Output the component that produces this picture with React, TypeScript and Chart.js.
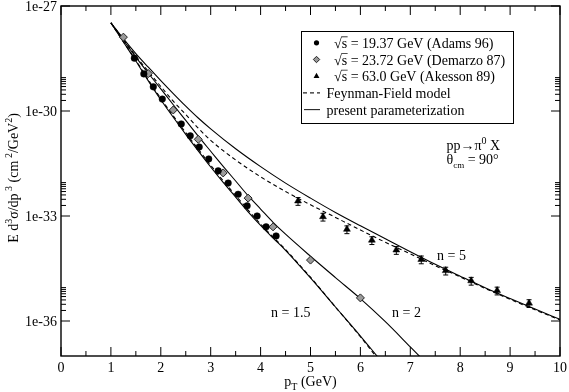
import React, { useEffect, useRef } from 'react';
import { Chart, registerables } from 'chart.js';

Chart.register(...registerables);

// ---------------- data ----------------
const adamsPt = [1.47, 1.66, 1.85, 2.03, 2.41, 2.59, 2.77, 2.96, 3.15, 3.35, 3.55, 3.73, 3.93, 4.11, 4.31];
const adamsXsec = [3.24e-29, 1.15e-29, 4.9e-30, 2.19e-30, 4.27e-31, 1.95e-31, 9.33e-32, 4.27e-32, 1.95e-32, 8.71e-33, 4.17e-33, 1.95e-33, 1.0e-33, 4.9e-34, 2.69e-34];

const demarzoPt = [1.25, 1.75, 2.25, 2.75, 3.25, 3.75, 4.25, 5.0, 6.0];
const demarzoXsec = [1.29e-28, 1.17e-29, 1.07e-30, 1.55e-31, 1.7e-32, 3.24e-33, 4.9e-34, 5.5e-35, 4.57e-36];

const akessonPt = [4.75, 5.25, 5.73, 6.23, 6.72, 7.22, 7.71, 8.22, 8.74, 9.38];
const akessonXsec = [2.69e-33, 9.55e-34, 4.17e-34, 2.04e-34, 1.07e-34, 5.75e-35, 2.75e-35, 1.41e-35, 7.41e-36, 3.24e-36];
const akessonRelErr = [0.25, 0.25, 0.25, 0.25, 0.25, 0.25, 0.25, 0.25, 0.25, 0.25];

const curve63Pt = [1, 1.25, 1.5, 1.75, 2, 2.25, 2.5, 2.75, 3, 3.5, 4, 4.5, 5, 5.5, 6, 6.5, 7, 7.5, 8, 8.5, 9, 9.5, 10];
const present63 = [3.31e-28, 1.17e-28, 4.37e-29, 1.78e-29, 7.41e-30, 3.16e-30, 1.38e-30, 6.31e-31, 3.09e-31, 8.32e-32, 2.57e-32, 8.71e-33, 3.24e-33, 1.26e-33, 5.25e-34, 2.24e-34, 9.55e-35, 4.17e-35, 1.91e-35, 8.91e-36, 4.37e-36, 2.19e-36, 1.12e-36];
const feynman63 = [3.31e-28, 1.1e-28, 3.72e-29, 1.35e-29, 5.01e-30, 1.91e-30, 7.94e-31, 3.24e-31, 1.45e-31, 3.98e-32, 1.32e-32, 5.01e-33, 2.09e-33, 9.12e-34, 3.98e-34, 1.78e-34, 8.32e-35, 3.8e-35, 1.82e-35, 8.51e-36, 4.17e-36, 2.09e-36, 1.07e-36];

const curve23Pt = [1, 1.25, 1.5, 1.75, 2, 2.25, 2.5, 2.75, 3, 3.25, 3.5, 3.75, 4, 4.25, 4.5, 5, 5.5, 6, 6.5, 7, 7.2];
const present23 = [3.31e-28, 1.05e-28, 3.47e-29, 1.2e-29, 4.27e-30, 1.51e-30, 5.37e-31, 1.91e-31, 7.08e-32, 2.63e-32, 1.0e-32, 3.8e-33, 1.58e-33, 6.61e-34, 3.02e-34, 7.08e-35, 1.74e-35, 4.37e-36, 9.55e-37, 1.82e-37, 9.33e-38];

const curve19Pt = [1, 1.25, 1.5, 1.75, 2, 2.25, 2.5, 2.75, 3, 3.25, 3.5, 3.75, 4, 4.25, 4.5, 5, 5.5, 6, 6.35];
const present19 = [3.31e-28, 9.33e-29, 2.69e-29, 7.24e-30, 2.09e-30, 6.61e-31, 2.14e-31, 7.24e-32, 2.51e-32, 9.12e-33, 3.47e-33, 1.32e-33, 5.37e-34, 2.34e-34, 1.05e-34, 1.7e-35, 2.51e-36, 3.72e-37, 9.33e-38];
const feynman19 = [3.31e-28, 9.55e-29, 2.82e-29, 7.76e-30, 2.29e-30, 7.24e-31, 2.4e-31, 8.13e-32, 2.82e-32, 1.02e-32, 3.89e-33, 1.48e-33, 5.89e-34, 2.51e-34, 1.1e-34, 1.78e-35, 2.51e-36, 3.55e-37, 8.32e-38];

const xTickValues = [0, 1, 2, 3, 4, 5, 6, 7, 8, 9, 10];
const xTickLabels = ['0', '1', '2', '3', '4', '5', '6', '7', '8', '9', '10'];
const yTickValues = [1e-36, 1e-33, 1e-30, 1e-27];
const yTickLabels = ['1e-36', '1e-33', '1e-30', '1e-27'];

const legendLabels = [
  '= 19.37 GeV (Adams 96)',
  '= 23.72 GeV (Demarzo 87)',
  '= 63.0 GeV (Akesson 89)',
  'Feynman-Field model',
  'present parameterization',
];

// --------------- helpers ----------------
const FONT = "'Liberation Serif', 'DejaVu Serif', serif";

type Part = { t: string; size: number; dy: number };

function richWidth(ctx: CanvasRenderingContext2D, parts: Part[]) {
  let w = 0;
  for (const p of parts) {
    ctx.font = `${p.size}px ${FONT}`;
    w += ctx.measureText(p.t).width;
  }
  return w;
}

function drawRich(ctx: CanvasRenderingContext2D, parts: Part[], x: number, y: number) {
  let cx = x;
  for (const p of parts) {
    ctx.font = `${p.size}px ${FONT}`;
    ctx.fillText(p.t, cx, y + p.dy);
    cx += ctx.measureText(p.t).width;
  }
  return cx;
}

function drawMarker(ctx: CanvasRenderingContext2D, kind: string, x: number, y: number, r: number) {
  ctx.beginPath();
  if (kind === 'circle') {
    ctx.arc(x, y, r, 0, Math.PI * 2);
    ctx.fillStyle = '#000';
    ctx.fill();
  } else if (kind === 'diamond') {
    ctx.moveTo(x, y - r);
    ctx.lineTo(x + r, y);
    ctx.lineTo(x, y + r);
    ctx.lineTo(x - r, y);
    ctx.closePath();
    ctx.fillStyle = '#9a9a9a';
    ctx.fill();
    ctx.strokeStyle = '#222';
    ctx.lineWidth = 1;
    ctx.stroke();
  } else {
    ctx.moveTo(x, y - r);
    ctx.lineTo(x + r * 0.87, y + r * 0.5);
    ctx.lineTo(x - r * 0.87, y + r * 0.5);
    ctx.closePath();
    ctx.fillStyle = '#000';
    ctx.fill();
  }
}

const errorBarPlugin = {
  id: 'errorBars',
  beforeDatasetsDraw(chart: any) {
    const ctx: CanvasRenderingContext2D = chart.ctx;
    const xs = chart.scales.x;
    const ys = chart.scales.y;
    ctx.save();
    ctx.strokeStyle = '#000';
    ctx.lineWidth = 1;
    akessonPt.forEach((pt, i) => {
      const v = akessonXsec[i];
      const e = akessonRelErr[i];
      const px = xs.getPixelForValue(pt);
      const yTop = ys.getPixelForValue(v * (1 + e));
      const yBot = ys.getPixelForValue(v * (1 - e));
      ctx.beginPath();
      ctx.moveTo(px, yTop);
      ctx.lineTo(px, yBot);
      ctx.moveTo(px - 2.5, yTop);
      ctx.lineTo(px + 2.5, yTop);
      ctx.moveTo(px - 2.5, yBot);
      ctx.lineTo(px + 2.5, yBot);
      ctx.stroke();
    });
    ctx.restore();
  },
};

const framePlugin = {
  id: 'frameAndText',
  afterDraw(chart: any) {
    const ctx: CanvasRenderingContext2D = chart.ctx;
    const { left, right, top, bottom } = chart.chartArea;
    const xs = chart.scales.x;
    const ys = chart.scales.y;
    ctx.save();
    ctx.strokeStyle = '#000';
    ctx.fillStyle = '#000';

    // frame
    ctx.lineWidth = 1.4;
    ctx.strokeRect(left, top, right - left, bottom - top);

    // ticks
    ctx.lineWidth = 1;
    ctx.beginPath();
    const MAJ = 9;
    const MIN = 5;
    for (let i = 0; i < xTickValues.length; i++) {
      const px = xs.getPixelForValue(xTickValues[i]);
      ctx.moveTo(px, bottom);
      ctx.lineTo(px, bottom - MAJ);
      ctx.moveTo(px, top);
      ctx.lineTo(px, top + MAJ);
      if (i < xTickValues.length - 1) {
        const mx = xs.getPixelForValue((xTickValues[i] + xTickValues[i + 1]) / 2);
        ctx.moveTo(mx, bottom);
        ctx.lineTo(mx, bottom - MIN);
        ctx.moveTo(mx, top);
        ctx.lineTo(mx, top + MIN);
      }
    }
    for (const v of yTickValues) {
      const py = ys.getPixelForValue(v);
      ctx.moveTo(left, py);
      ctx.lineTo(left + MAJ, py);
      ctx.moveTo(right, py);
      ctx.lineTo(right - MAJ, py);
      for (let k = 2; k <= 9; k++) {
        const my = ys.getPixelForValue(v * k);
        ctx.moveTo(left, my);
        ctx.lineTo(left + MIN, my);
        ctx.moveTo(right, my);
        ctx.lineTo(right - MIN, my);
      }
    }
    ctx.stroke();

    // tick labels
    ctx.font = `14px ${FONT}`;
    ctx.textAlign = 'right';
    ctx.textBaseline = 'middle';
    yTickValues.forEach((v, i) => {
      ctx.fillText(yTickLabels[i], left - 4, ys.getPixelForValue(v) + 1);
    });
    ctx.textAlign = 'center';
    ctx.textBaseline = 'alphabetic';
    xTickValues.forEach((v, i) => {
      ctx.fillText(xTickLabels[i], xs.getPixelForValue(v), bottom + 16);
    });

    ctx.textAlign = 'left';
    // x title
    const xTitle: Part[] = [
      { t: 'p', size: 14, dy: 0 },
      { t: 'T', size: 10, dy: 4 },
      { t: ' (GeV)', size: 14, dy: 0 },
    ];
    const xw = richWidth(ctx, xTitle);
    drawRich(ctx, xTitle, (left + right) / 2 - xw / 2, bottom + 30);

    // y title
    const yTitle: Part[] = [
      { t: 'E d', size: 14, dy: 0 },
      { t: '3', size: 10, dy: -6 },
      { t: 'σ/dp', size: 14, dy: 0 },
      { t: ' 3', size: 10, dy: -6 },
      { t: ' (cm', size: 14, dy: 0 },
      { t: ' 2', size: 10, dy: -6 },
      { t: '/GeV', size: 14, dy: 0 },
      { t: '2', size: 10, dy: -6 },
      { t: ')', size: 14, dy: 0 },
    ];
    const yw = richWidth(ctx, yTitle);
    ctx.save();
    ctx.translate(18, (top + bottom) / 2 - 3);
    ctx.rotate(-Math.PI / 2);
    drawRich(ctx, yTitle, -yw / 2, 0);
    ctx.restore();

    // legend box
    ctx.lineWidth = 1;
    ctx.strokeRect(301.5, 31.5, 212, 92);
    const rowY = [42.8, 59.5, 76.2, 92.9, 109.6];
    const kinds = ['circle', 'diamond', 'triangle'];
    const symR = [2.6, 3.2, 3.4];
    for (let i = 0; i < 3; i++) {
      drawMarker(ctx, kinds[i], 316.5, rowY[i], symR[i]);
      ctx.fillStyle = '#000';
      ctx.font = `14px ${FONT}`;
      const bx = 334;
      const by = rowY[i] + 5;
      ctx.fillText('√', bx, by);
      const sx = bx + ctx.measureText('√').width;
      ctx.fillText('s', sx, by);
      const sw = ctx.measureText('s').width;
      ctx.beginPath();
      ctx.lineWidth = 0.8;
      ctx.moveTo(sx - 0.5, by - 11);
      ctx.lineTo(sx + sw + 0.5, by - 11);
      ctx.stroke();
      ctx.fillText(' ' + legendLabels[i], sx + sw, by);
    }
    ctx.lineWidth = 1.1;
    ctx.beginPath();
    ctx.setLineDash([4, 3]);
    ctx.moveTo(303, rowY[3]);
    ctx.lineTo(320, rowY[3]);
    ctx.stroke();
    ctx.setLineDash([]);
    ctx.beginPath();
    ctx.moveTo(304, rowY[4]);
    ctx.lineTo(320, rowY[4]);
    ctx.stroke();
    ctx.font = `14px ${FONT}`;
    ctx.fillText(legendLabels[3], 326.5, rowY[3] + 5);
    ctx.fillText(legendLabels[4], 326.5, rowY[4] + 5);

    // annotations
    drawRich(ctx, [
      { t: 'pp→π', size: 14, dy: 0 },
      { t: '0', size: 10, dy: -6 },
      { t: ' X', size: 14, dy: 0 },
    ], 446.5, 150);
    drawRich(ctx, [
      { t: 'θ', size: 14, dy: 0 },
      { t: 'cm', size: 9, dy: 4 },
      { t: ' = 90°', size: 14, dy: 0 },
    ], 446.5, 163.5);

    ctx.font = `14px ${FONT}`;
    ctx.fillText('n = 5', 437, 260);
    ctx.fillText('n = 2', 392, 316.5);
    ctx.fillText('n = 1.5', 271, 316.5);

    ctx.restore();
  },
};

const toPoints = (xs: number[], ys: number[]) => xs.map((x, i) => ({ x, y: ys[i] }));

const curveStyle = (dashed: boolean) => ({
  showLine: true,
  pointRadius: 0,
  borderColor: '#000',
  borderWidth: 1.1,
  borderDash: dashed ? [4, 3] : [],
  cubicInterpolationMode: 'monotone' as const,
  fill: false,
});

export default function App() {
  const canvasRef = useRef<HTMLCanvasElement | null>(null);

  useEffect(() => {
    if (!canvasRef.current) return;
    const chart = new Chart(canvasRef.current, {
      type: 'scatter',
      data: {
        datasets: [
          {
            label: 'Adams 96',
            data: toPoints(adamsPt, adamsXsec),
            pointStyle: 'circle',
            pointRadius: 3.3,
            pointBackgroundColor: '#000',
            pointBorderColor: '#000',
            pointBorderWidth: 0.5,
            showLine: false,
          },
          {
            label: 'Demarzo 87',
            data: toPoints(demarzoPt, demarzoXsec),
            pointStyle: 'rectRot',
            pointRadius: 4,
            pointBackgroundColor: '#9a9a9a',
            pointBorderColor: '#222',
            pointBorderWidth: 1,
            showLine: false,
          },
          {
            label: 'Akesson 89',
            data: toPoints(akessonPt, akessonXsec),
            pointStyle: 'triangle',
            pointRadius: 4,
            pointBackgroundColor: '#000',
            pointBorderColor: '#000',
            pointBorderWidth: 0.5,
            showLine: false,
          },
          { label: 'present 63', data: toPoints(curve63Pt, present63), ...curveStyle(false) },
          { label: 'FF 63', data: toPoints(curve63Pt, feynman63), ...curveStyle(true) },
          { label: 'present 23', data: toPoints(curve23Pt, present23), ...curveStyle(false) },
          { label: 'present 19', data: toPoints(curve19Pt, present19), ...curveStyle(false) },
          { label: 'FF 19', data: toPoints(curve19Pt, feynman19), ...curveStyle(true) },
        ] as any,
      },
      options: {
        animation: false,
        responsive: false,
        devicePixelRatio: 1,
        layout: { padding: { left: 61, right: 9, top: 6, bottom: 36 } },
        scales: {
          x: { type: 'linear', min: 0, max: 10, display: false },
          y: { type: 'logarithmic', min: 1e-37, max: 1e-27, display: false },
        },
        plugins: {
          legend: { display: false },
          tooltip: { enabled: false },
        },
      },
      plugins: [errorBarPlugin, framePlugin],
    });
    return () => chart.destroy();
  }, []);

  return (
    <div style={{ position: 'absolute', left: 0, top: 0, width: 569, height: 392, background: '#fff' }}>
      <canvas ref={canvasRef} width={569} height={392} style={{ display: 'block' }} />
    </div>
  );
}
